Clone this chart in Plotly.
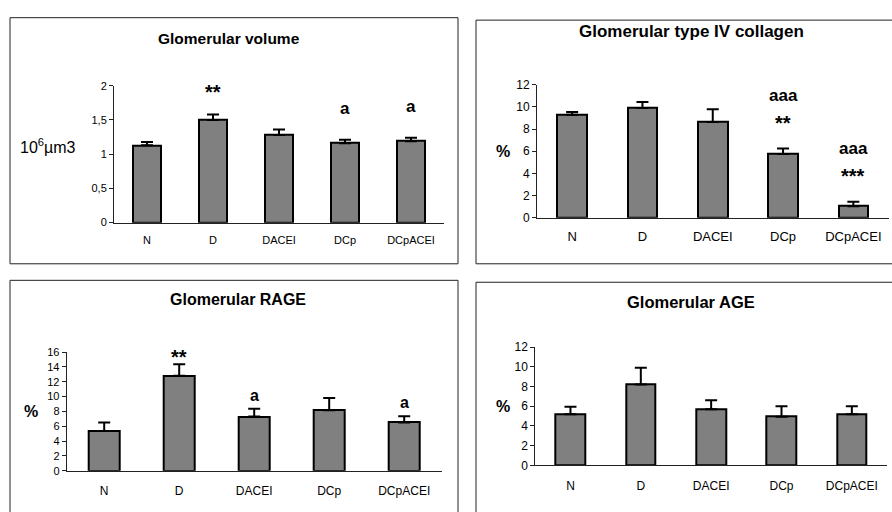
import plotly.graph_objects as go

# Treatment groups shared by every panel
groups = ["N", "D", "DACEI", "DCp", "DCpACEI"]

# Glomerular volume (10^6 µm3): mean and SEM
volume_mean = [1.13, 1.50, 1.28, 1.16, 1.19]
volume_sem = [0.05, 0.08, 0.08, 0.05, 0.05]
volume_stars = ["", "**", "", "", ""]
volume_letters = ["", "", "", "a", "a"]

# Glomerular type IV collagen (%)
collagen_mean = [9.3, 9.9, 8.65, 5.75, 1.05]
collagen_sem = [0.25, 0.55, 1.15, 0.5, 0.4]
collagen_stars = ["", "", "", "**", "***"]
collagen_letters = ["", "", "", "aaa", "aaa"]

# Glomerular RAGE (%)
rage_mean = [5.35, 12.8, 7.3, 8.15, 6.5]
rage_sem = [1.15, 1.55, 1.05, 1.65, 0.85]
rage_stars = ["", "**", "", "", ""]
rage_letters = ["", "", "a", "", "a"]

# Glomerular AGE (%)
age_mean = [5.2, 8.2, 5.7, 4.95, 5.2]
age_sem = [0.75, 1.7, 0.9, 1.05, 0.8]
age_stars = ["", "", "", "", ""]
age_letters = ["", "", "", "", ""]

W, H = 892, 512
FONT = "Arial, Liberation Sans, sans-serif"


def px(x):
    return x / W


def py(y):
    return 1 - y / H


panels = [
    dict(title="Glomerular volume", mean=volume_mean, sem=volume_sem,
         stars=volume_stars, letters=volume_letters,
         ylabel="10<sup>6</sup>µm3", ylabel_bold=False, ylabel_frac=0.56,
         yrange=[0, 2], dtick=0.5, ticktext=["0", "0,5", "1", "1,5", "2"],
         box=(10, 11, 458, 264), plot=(114, 81, 444, 221.7),
         title_xy=(229, 32), ylabel_x=48, title_size=15.5, tick_size=11,
         xtick_size=11, xtick_pad=7, ylabel_size=16, star_size=20, letter_size=17,
         star_shift=10, letter_shift=20, stack_shift=42),
    dict(title="Glomerular type IV collagen", mean=collagen_mean, sem=collagen_sem,
         stars=collagen_stars, letters=collagen_letters,
         ylabel="%", ylabel_bold=True, ylabel_frac=0.5,
         yrange=[0, 12], dtick=2, ticktext=None,
         box=(476, 13.5, 900, 264), plot=(537, 80, 888.5, 216.7),
         title_xy=(691, 25), ylabel_x=503, title_size=17, tick_size=12,
         xtick_size=13, xtick_pad=7, ylabel_size=16, star_size=20, letter_size=17,
         star_shift=13, letter_shift=20, stack_shift=42),
    dict(title="Glomerular RAGE", mean=rage_mean, sem=rage_sem,
         stars=rage_stars, letters=rage_letters,
         ylabel="%", ylabel_bold=True, ylabel_frac=0.5,
         yrange=[0, 16], dtick=2, ticktext=None,
         box=(10, 281, 458, 520), plot=(66.7, 354.7, 441.7, 476.7),
         title_xy=(238, 301), ylabel_x=31, title_size=16, tick_size=11,
         xtick_size=12, xtick_pad=9, ylabel_size=16, star_size=20, letter_size=16,
         star_shift=-6, letter_shift=3, stack_shift=30),
    dict(title="Glomerular AGE", mean=age_mean, sem=age_sem,
         stars=age_stars, letters=age_letters,
         ylabel="%", ylabel_bold=True, ylabel_frac=0.5,
         yrange=[0, 12], dtick=2, ticktext=None,
         box=(476, 283, 900, 520), plot=(535.3, 349.7, 887, 471.3),
         title_xy=(691, 303), ylabel_x=503, title_size=16.5, tick_size=12,
         xtick_size=12, xtick_pad=9, ylabel_size=16, star_size=20, letter_size=17,
         star_shift=6, letter_shift=20, stack_shift=42),
]

fig = go.Figure()
shapes = []
annotations = []

for i, p in enumerate(panels, start=1):
    xa = "x" if i == 1 else f"x{i}"
    ya = "y" if i == 1 else f"y{i}"
    fig.add_trace(go.Bar(
        x=groups, y=p["mean"], xaxis=xa, yaxis=ya, width=0.42,
        marker=dict(color="#808080", line=dict(color="black", width=2)),
        error_y=dict(type="data", symmetric=False, array=p["sem"],
                     arrayminus=[0] * len(groups), color="black",
                     thickness=2, width=6),
        showlegend=False, hoverinfo="skip",
    ))

    x0, y0, x1, y1 = p["plot"]
    xkey = "xaxis" if i == 1 else f"xaxis{i}"
    ykey = "yaxis" if i == 1 else f"yaxis{i}"
    tickvals = None
    if p["ticktext"] is not None:
        n = len(p["ticktext"])
        tickvals = [p["yrange"][0] + k * p["dtick"] for k in range(n)]
    fig.update_layout({
        xkey: dict(domain=[px(x0), px(x1)], anchor=ya, range=[-0.5, 4.5],
                   showline=True, linecolor="#222", linewidth=1, ticks="",
                   showgrid=False, zeroline=False, fixedrange=True,
                   ticklabelstandoff=p["xtick_pad"],
                   tickfont=dict(family=FONT, size=p["xtick_size"], color="black")),
        ykey: dict(domain=[py(y1), py(y0)], anchor=xa, range=p["yrange"],
                   dtick=p["dtick"], tickvals=tickvals, ticktext=p["ticktext"],
                   showline=True, linecolor="#222", linewidth=1,
                   ticks="outside", ticklen=4, tickcolor="#222",
                   showgrid=False, zeroline=False, fixedrange=True,
                   tickfont=dict(family=FONT, size=p["tick_size"], color="black")),
    })

    bx0, by0, bx1, by1 = p["box"]
    shapes.append(dict(type="rect", xref="paper", yref="paper",
                       x0=px(bx0), x1=px(bx1), y0=py(by1), y1=py(by0),
                       line=dict(color="#222", width=1), layer="below"))

    tx, ty = p["title_xy"]
    annotations.append(dict(xref="paper", yref="paper", x=px(tx), y=py(ty),
                            text=f"<b>{p['title']}</b>", showarrow=False,
                            xanchor="center", yanchor="middle",
                            font=dict(family=FONT, size=p["title_size"], color="black")))

    ylab = f"<b>{p['ylabel']}</b>" if p["ylabel_bold"] else p["ylabel"]
    annotations.append(dict(xref="paper", yref=f"{ya} domain", x=px(p["ylabel_x"]),
                            y=p["ylabel_frac"], text=ylab,
                            showarrow=False, xanchor="center", yanchor="middle",
                            font=dict(family=FONT, size=p["ylabel_size"], color="black")))

    # significance marks above each error bar: stars first, letters stacked above
    for g, m, s, st, lt in zip(groups, p["mean"], p["sem"], p["stars"], p["letters"]):
        top = m + s
        if st:
            annotations.append(dict(xref=xa, yref=ya, x=g, y=top, text=f"<b>{st}</b>",
                                    showarrow=False, yanchor="bottom",
                                    yshift=p["star_shift"],
                                    font=dict(family=FONT, size=p["star_size"], color="black")))
        if lt:
            shift = p["stack_shift"] if st else p["letter_shift"]
            annotations.append(dict(xref=xa, yref=ya, x=g, y=top, text=f"<b>{lt}</b>",
                                    showarrow=False, yanchor="bottom", yshift=shift,
                                    font=dict(family=FONT, size=p["letter_size"], color="black")))

fig.update_layout(
    width=W, height=H, margin=dict(l=0, r=0, t=0, b=0),
    paper_bgcolor="white", plot_bgcolor="white",
    shapes=shapes, annotations=annotations, bargap=0,
)

fig.write_html("out.html", config={"displayModeBar": False})
